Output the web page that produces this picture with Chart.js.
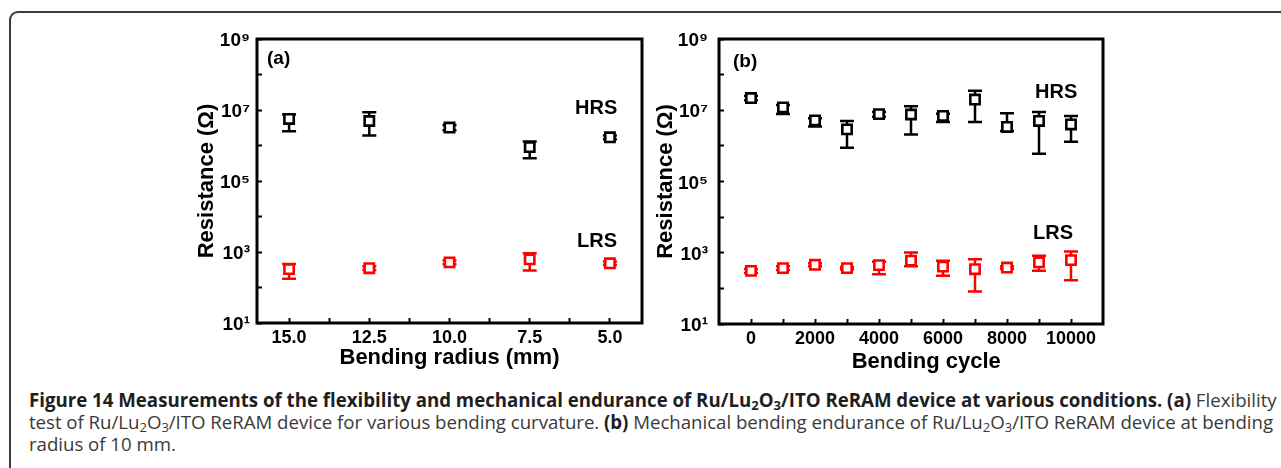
<!DOCTYPE html>
<html><head><meta charset="utf-8">
<script src="https://cdn.jsdelivr.net/npm/chart.js@4.4.1/dist/chart.umd.min.js"></script>
<style>
html,body{margin:0;padding:0;background:#fff;}
body{width:1281px;height:468px;position:relative;overflow:hidden;font-family:"Liberation Sans",Arial,sans-serif;}
#frame{position:absolute;left:9px;top:11px;width:1300px;height:480px;border-top:2px solid #3c3c3c;border-left:2px solid #3c3c3c;border-top-left-radius:9px;box-sizing:border-box;}
canvas{position:absolute;top:0;}
#cA{left:0;} #cB{left:600px;}
.ann{position:absolute;font-weight:bold;white-space:nowrap;color:#000;line-height:1;}
.cap{position:absolute;left:29px;white-space:nowrap;font-family:"Open Sans",sans-serif;font-size:16px;line-height:22px;color:#3a3a3a;}
.cap b{color:#1e1e1e;font-weight:700;}
.cap span.inner{display:inline-block;}
sub{font-size:70%;vertical-align:-0.25em;line-height:0;}
</style>
</head>
<body>
<div id="frame"></div>
<canvas id="cA" width="660" height="380"></canvas>
<canvas id="cB" width="600" height="380"></canvas>
<div class="ann" style="left:267px;top:48px;font-size:19px;">(a)</div>
<div class="ann" style="left:575px;top:97px;font-size:20px;">HRS</div>
<div class="ann" style="left:577px;top:230px;font-size:20px;">LRS</div>
<div class="ann" style="left:733px;top:51px;font-size:19px;">(b)</div>
<div class="ann" style="left:1035px;top:81px;font-size:20px;">HRS</div>
<div class="ann" style="left:1033px;top:222px;font-size:20px;">LRS</div>
<div class="cap" id="l1" style="top:389px;"><span class="inner"><b>Figure 14 Measurements of the flexibility and mechanical endurance of Ru/Lu<sub>2</sub>O<sub>3</sub>/ITO ReRAM device at various conditions. (a)</b> Flexibility</span></div>
<div class="cap" id="l2" style="top:411px;"><span class="inner">test of Ru/Lu<sub>2</sub>O<sub>3</sub>/ITO ReRAM device for various bending curvature. <b>(b)</b> Mechanical bending endurance of Ru/Lu<sub>2</sub>O<sub>3</sub>/ITO ReRAM device at bending</span></div>
<div class="cap" id="l3" style="top:433px;"><span class="inner">radius of 10 mm.</span></div>
<script>
// ---- Panel (a): bending radius ----
const radius = [15.0, 12.5, 10.0, 7.5, 5.0];
const hrsA     = [5.6e6, 4.9e6, 3.2e6, 9.0e5, 1.7e6];
const hrsALow  = [2.5e6, 1.9e6, 2.7e6, 4.4e5, 1.5e6];
const hrsAHigh = [7.5e6, 8.6e6, 3.8e6, 1.3e6, 1.9e6];
const lrsA     = [330, 350, 510, 620, 480];
const lrsALow  = [175, 310, 450, 300, 430];
const lrsAHigh = [460, 400, 580, 920, 540];

// ---- Panel (b): bending cycle ----
const cycles = [0, 1000, 2000, 3000, 4000, 5000, 6000, 7000, 8000, 9000, 10000];
const hrsB     = [2.2e7, 1.2e7, 5.2e6, 2.9e6, 7.8e6, 7.6e6, 6.9e6, 2.0e7, 3.4e6, 5.0e6, 4.0e6];
const hrsBLow  = [1.9e7, 7.8e6, 3.5e6, 8.9e5, 6.6e6, 2.1e6, 4.7e6, 4.7e6, 2.6e6, 6.0e5, 1.3e6];
const hrsBHigh = [2.5e7, 1.4e7, 6.0e6, 5.0e6, 9.0e6, 1.3e7, 8.0e6, 3.5e7, 8.3e6, 8.9e6, 6.9e6];
const lrsB     = [310, 370, 460, 370, 450, 600, 410, 345, 385, 540, 620];
const lrsBLow  = [270, 330, 420, 340, 250, 420, 225, 82, 350, 310, 170];
const lrsBHigh = [350, 420, 510, 400, 560, 1020, 600, 660, 420, 820, 1090];

// ---- tick labels ----
const yTickValues = [1e1, 1e2, 1e3, 1e4, 1e5, 1e6, 1e7, 1e8, 1e9];
const yTickLabels = {1: '10¹', 3: '10³', 5: '10⁵', 7: '10⁷', 9: '10⁹'};
const radiusTicks = [5, 6.25, 7.5, 8.75, 10, 11.25, 12.5, 13.75, 15];
const radiusLabels = ['5.0', '7.5', '10.0', '12.5', '15.0'];
const cycleTicks = [0, 1000, 2000, 3000, 4000, 5000, 6000, 7000, 8000, 9000, 10000];
const cycleLabels = ['0', '2000', '4000', '6000', '8000', '10000'];

const FAMILY = '"Liberation Sans", Arial, sans-serif';
Chart.defaults.font.family = FAMILY;
Chart.defaults.color = '#000';

const errorBars = {
  id: 'errorBars',
  beforeDatasetsDraw(chart) {
    const ctx = chart.ctx, xs = chart.scales.x, ys = chart.scales.y;
    chart.data.datasets.forEach(ds => {
      if (!ds.errLow) return;
      ctx.save();
      ctx.strokeStyle = ds.borderColor;
      ctx.lineWidth = 2.5;
      ds.data.forEach((p, i) => {
        const x = xs.getPixelForValue(p.x);
        const yl = ys.getPixelForValue(ds.errLow[i]);
        const yh = ys.getPixelForValue(ds.errHigh[i]);
        ctx.beginPath();
        ctx.moveTo(x, yl); ctx.lineTo(x, yh);
        ctx.moveTo(x - 7, yl); ctx.lineTo(x + 7, yl);
        ctx.moveTo(x - 7, yh); ctx.lineTo(x + 7, yh);
        ctx.stroke();
      });
      ctx.restore();
    });
  }
};
const frame = {
  id: 'frame',
  afterDraw(chart) {
    const {left, top, right, bottom} = chart.chartArea;
    const ctx = chart.ctx;
    ctx.save();
    ctx.strokeStyle = '#000';
    ctx.lineWidth = 3;
    ctx.strokeRect(left, top, right - left, bottom - top);
    ctx.restore();
  }
};

function series(xs, ys, lo, hi, color) {
  return {
    data: xs.map((x, i) => ({x: x, y: ys[i]})),
    errLow: lo, errHigh: hi,
    borderColor: color, backgroundColor: '#fff',
    pointStyle: 'rect', pointRadius: 6.6, pointHoverRadius: 6.6,
    borderWidth: 2.6, showLine: false
  };
}

function yAxis(tickPad, titlePad) {
  return {
    type: 'logarithmic', min: 10, max: 1e9,
    afterBuildTicks: s => { s.ticks = yTickValues.map(v => ({value: v})); },
    ticks: {
      autoSkip: false, padding: tickPad, labelOffset: 2, color: '#000',
      font: {size: 19, weight: 'bold', family: FAMILY},
      callback: v => yTickLabels[Math.round(Math.log10(v))] || ''
    },
    grid: {drawOnChartArea: false, drawTicks: true, tickLength: -5, tickWidth: 2, tickColor: '#000'},
    border: {display: false},
    title: {display: true, text: 'Resistance (Ω)', color: '#000',
      font: {size: 22, weight: 'bold', family: FAMILY}, padding: {top: titlePad, bottom: 0}},
    afterFit: s => { s.width = 70; s.paddingTop = 0; s.paddingBottom = 0; }
  };
}

function xAxis(cfg) {
  return Object.assign({
    type: 'linear',
    ticks: {
      autoSkip: false, maxRotation: 0, minRotation: 0, padding: 9.5, color: '#000',
      font: {size: 18, weight: 'bold', family: FAMILY},
      callback: cfg.label
    },
    grid: {drawOnChartArea: false, drawTicks: true, tickLength: -5, tickWidth: 2, tickColor: '#000'},
    border: {display: false},
    title: {display: true, text: cfg.title, color: '#000',
      font: {size: 22, weight: 'bold', family: FAMILY}, padding: {top: 0, bottom: cfg.titlePad}},
    afterBuildTicks: s => { s.ticks = cfg.ticks.map(v => ({value: v})); },
    afterFit: s => { s.height = 52; s.paddingLeft = 0; s.paddingRight = 0; }
  }, cfg.range);
}

function makeChart(id, datasets, xCfg, yTickPad, yTitlePad, padding) {
  return new Chart(document.getElementById(id), {
    type: 'scatter',
    data: {datasets: datasets},
    options: {
      responsive: false, animation: false, devicePixelRatio: 1, events: [],
      layout: {padding: padding},
      plugins: {legend: {display: false}, tooltip: {enabled: false}},
      scales: {x: xAxis(xCfg), y: yAxis(yTickPad, yTitlePad)}
    },
    plugins: [errorBars, frame]
  });
}

makeChart('cA',
  [series(radius, hrsA, hrsALow, hrsAHigh, '#000000'),
   series(radius, lrsA, lrsALow, lrsAHigh, '#ff0000')],
  {range: {min: 4, max: 16, reverse: true}, ticks: radiusTicks, title: 'Bending radius (mm)', titlePad: 4,
   label: v => { const s = v.toFixed(1); return radiusLabels.includes(s) ? s : ''; }},
  12, 7, {left: 187, top: 39, right: 18, bottom: 5});

makeChart('cB',
  [series(cycles, hrsB, hrsBLow, hrsBHigh, '#000000'),
   series(cycles, lrsB, lrsBLow, lrsBHigh, '#ff0000')],
  {range: {min: -1000, max: 11000}, ticks: cycleTicks, title: '     Bending cycle', titlePad: 1,
   label: v => { const s = String(v); return cycleLabels.includes(s) ? s : ''; }},
  16, 4, {left: 49, top: 39, right: 97, bottom: 4});

// fit caption lines to the widths measured on the reference
const inners = ['l1', 'l2', 'l3'].map(id => document.querySelector('#' + id + ' .inner'));
const w1 = inners[0].getBoundingClientRect().width;
const fs = 16 * 1248 / w1;
document.querySelectorAll('.cap').forEach(el => { el.style.fontSize = fs + 'px'; });
const w2 = inners[1].getBoundingClientRect().width;
const ls2 = (1244 - w2) / inners[1].textContent.length;
inners[1].style.letterSpacing = ls2 + 'px';
inners[2].style.letterSpacing = ls2 + 'px';
</script>
</body></html>
